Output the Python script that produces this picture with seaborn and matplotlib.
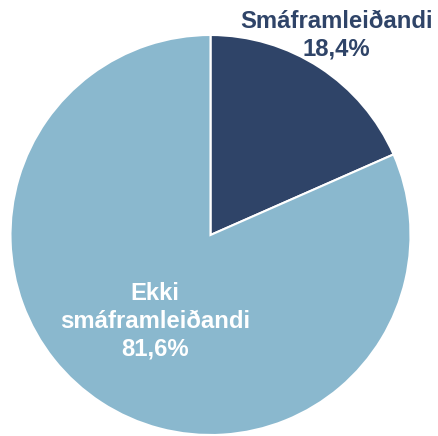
import matplotlib
matplotlib.use("Agg")
import matplotlib.pyplot as plt
import seaborn as sns

labels = ["Smáframleiðandi", "Ekki\nsmáframleiðandi"]
values = [18.4, 81.6]
colors = ["#2F4468", "#8AB8CE"]
text_colors = ["#2F4468", "white"]
label_pos = [(0.63, 1.0), (-0.2775, -0.43)]

sns.set_style("white")
plt.rcParams['font.family'] = ['Liberation Sans', 'DejaVu Sans']

fig = plt.figure(figsize=(4.39, 4.36), dpi=100)
ax = fig.add_axes([0, 0, 1, 1])
ax.pie(values, colors=colors, startangle=90, counterclock=False,
       radius=1.0, wedgeprops=dict(edgecolor="white", linewidth=1.5))

for lab, v, c, (x, y) in zip(labels, values, text_colors, label_pos):
    txt = lab + "\n" + f"{v:.1f}".replace(".", ",") + "%"
    ax.text(x, y, txt, ha="center", va="center", color=c,
            fontsize=17.2, fontweight="bold", linespacing=1.27)

ax.set_xlim(-210.5 / 200, (439 - 210.5) / 200)
ax.set_ylim(-(436 - 235) / 200, 235 / 200)
ax.set_aspect("equal")
ax.axis("off")

fig.savefig("out.png", dpi=100)
